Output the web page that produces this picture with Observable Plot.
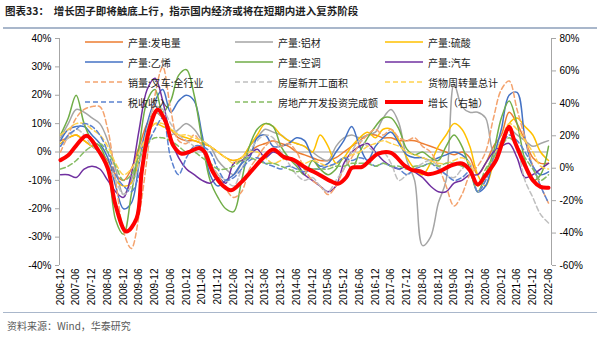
<!DOCTYPE html>
<html><head><meta charset="utf-8">
<script src="https://cdn.jsdelivr.net/npm/d3@7"></script>
<script src="https://cdn.jsdelivr.net/npm/@observablehq/plot@0.6"></script>
<style>
body{margin:0;background:#fff;}
#wrap{position:relative;width:600px;height:338px;overflow:hidden;background:#fff;}
#title{position:absolute;left:5px;top:3px;font-family:"Noto Sans CJK SC";font-weight:bold;font-size:10.5px;color:#1f1f1f;white-space:pre;}
#tline{position:absolute;left:3px;top:27px;width:594px;height:2px;background:#A9B7CB;}
#chart{position:absolute;left:0;top:30px;}
#legend{position:absolute;left:0;top:30px;width:600px;height:100px;pointer-events:none;}
.li{position:absolute;display:flex;align-items:center;font-family:"Noto Sans CJK SC";font-size:10px;color:#222;white-space:nowrap;}
.li svg{margin-right:5px;}
#fline{position:absolute;left:3px;top:312px;width:594px;height:1px;background:#A9B7CB;}
#source{position:absolute;left:7px;top:318px;font-family:"Noto Sans CJK SC";font-size:10px;color:#595959;}
</style></head>
<body>
<div id="wrap">
  <div id="title">图表33：  增长因子即将触底上行，指示国内经济或将在短期内进入复苏阶段</div>
  <div id="tline"></div>
  <div id="chart"></div>
  <div id="legend"></div>
  <div id="fline"></div>
  <div id="source">资料来源：Wind，华泰研究</div>
</div>
<script>
// ---- quarterly dates for the thin series ----
const quarters = ["2006-12",
 "2007-03","2007-06","2007-09","2007-12","2008-03","2008-06","2008-09","2008-12",
 "2009-03","2009-06","2009-09","2009-12","2010-03","2010-06","2010-09","2010-12",
 "2011-03","2011-06","2011-09","2011-12","2012-03","2012-06","2012-09","2012-12",
 "2013-03","2013-06","2013-09","2013-12","2014-03","2014-06","2014-09","2014-12",
 "2015-03","2015-06","2015-09","2015-12","2016-03","2016-06","2016-09","2016-12",
 "2017-03","2017-06","2017-09","2017-12","2018-03","2018-06","2018-09","2018-12",
 "2019-03","2019-06","2019-09","2019-12","2020-03","2020-06","2020-09","2020-12",
 "2021-03","2021-06","2021-09","2021-12","2022-03","2022-06"];

// 产量:发电量
const electricity = [4, 5,6,4,2, 0,-3,-8,-10, -6,2,10,14, 12,8,5,4, 4,3,2,0, -2,-3,-2,0, 2,3,4,3, 2,0,-1,-2, -3,-3,-2,0, 2,4,6,6, 5,5,4,4, 4,3,2,1, 0,-1,0,-2, -8,-4,2,6, 14,10,4,-2, -4,-4];
// 产量:铝材
const aluminum = [5, 10,15,14,12, 10,4,-6,-15, -10,0,8,14, 12,6,8,10, 8,4,2,-3, -6,-8,-4,2, 5,8,7,6, 4,3,2,0, -2,-3,2,5, 6,5,6,7, 12,15,10,-3, -10,-33,-30,-18, -10,24,16,14, 14,12,0,4, 8,6,4,2, 3,4];
// 产量:硫酸
const sulfuric = [3, 5,6,4,2, 0,-4,-10,-12, -11,-3,6,10, 9,8,6,5, 4,3,2,0, -2,-3,-2,2, 6,10,9,6, 4,3,2,0, 6,2,-4,-2, 2,5,7,5, 8,8,4,-2, -6,-8,-4,2, 6,10,8,2, -8,-12,-4,2, 10,12,9,6, 0,-3];
// 产量:乙烯
const ethylene = [4, 8,9,9,6, 3,-2,-12,-20, -18,-4,10,18, 22,14,18,20, 18,6,-8,-12, -10,-8,-4,-2, 5,6,2,2, 3,5,4,-2, -5,-4,0,4, 9,2,-3,2, 5,7,3,-1, -2,-2,-3,-2, -1,0,-1,-4, -14,-12,-2,8, 20,21,5,-5, -8,-7];
// 产量:空调
const aircon = [6, 12,20,10,4, 2,-5,-24,-29, -15,2,18,22, 14,18,27,29, 20,4,-10,-16, -20,-21,-10,2, 8,10,9,2, -2,-5,-8,-3, -6,-8,-6,-2, -6,0,5,9, 12,12,8,1, -1,0,-2,-3, 2,6,2,-6, -14,-8,0,12, 18,10,-3,-10, -8,2];
// 产量:汽车
const autos = [-8, -8,-9,-6,-5, -6,-10,-14,-16, -8,8,22,26, 18,5,-2,-6, -8,-10,-11,-9, -11,-4,-3,-1, 1,-2,0,-1, -2,-4,-8,-10, -12,-14,-12,-4, 0,2,3,0, -3,-5,-6,-5, -7,-9,-12,-14, -14,-11,-10,-8, -8,-4,0,2, 3,-2,-9,-8, -6,-4];
// 销量:叉车:全行业
const forklift = [0, 6,12,15,16, 16,8,-10,-28, -34,-22,-2,20, 30,15,4,3, 6,2,-4,-8, -13,-16,-14,-6, -2,2,4,2, 3,0,-6,-10, -12,-15,-12,-6, -2,3,6,8, 6,8,5,4, 5,2,0,-5, -12,-19,-15,-8, -5,0,12,22, 25,15,5,-5, -12,-18];
// 房屋新开工面积
const housing = [2, 5,8,6,2, 0,-4,-10,-15, -12,-4,8,16, 15,10,6,4, 2,0,-4,-8, -10,-12,-6,0, 4,6,5,0, -4,-8,-10,-9, -12,-14,-10,-6, 0,4,2,0, 0,-4,-10,-8, -6,-4,-3,-5, -8,-9,-6,-4, -14,-10,-2,4, 8,2,-10,-16, -22,-25];
// 货物周转量总计
const freight = [6, 8,10,10,8, 6,2,-4,-8, -6,0,6,10, 10,8,6,6, 5,4,2,0, -2,-4,-2,0, 0,-2,-4,-3, -2,-3,-4,-3, -4,-5,-4,-2, -1,0,2,3, 4,3,2,0, -1,-2,-3,-4, -4,-3,-2,-4, -12,-8,-2,4, 10,8,4,0, -5,-6];
// 税收收入
const tax = [2, 6,8,10,9, 6,0,-8,-12, -14,-8,2,8, 12,-2,-8,-2, 2,2,0,-6, -10,-9,-6,-3, -2,-4,-5,-6, -5,-6,-7,-6, -6,-5,-4,-2, -3,-2,-3,-5, -4,-5,-6,-8, -6,-5,-4,-6, -8,-10,-9,-7, -14,-10,-2,2, 6,4,0,-5, -12,-18];
// 房地产开发投资完成额
const realEstate = [-6, -5,-3,0,2, 3,0,-5,-10, -8,-2,3,5, 5,4,2,0, 0,-2,-4,-6, -6,-5,-3,-2, -3,-4,-4,-5, -6,-7,-6,-6, -6,-6,-5,-5, -4,-4,-4,-5, -4,-5,-5,-6, -5,-5,-4,-5, -4,-4,-5,-6, -12,-6,-2,2, 5,2,-2,-6, -10,-8];

// 增长（右轴）
const growthDates = ["2006-12","2007-03","2007-06","2007-10","2008-02","2008-06","2008-09","2009-01","2009-05","2009-07","2009-10","2010-01","2010-04","2010-07","2010-10","2011-01","2011-05","2011-07","2011-10","2012-02","2012-05","2012-09","2013-01","2013-05","2013-09","2014-01","2014-05","2014-09","2015-03","2015-07","2015-10","2016-01","2016-03","2016-07","2016-10","2017-01","2017-06","2017-11","2018-02","2018-05","2018-08","2018-12","2019-05","2019-09","2019-12","2020-03","2020-06","2020-10","2021-01","2021-03","2021-05","2021-09","2021-12","2022-03","2022-06"];
const growth = [5,8,14,20,12,0,-23,-39,-31,-2,25,36,29,14,9,10,12.5,10,-2,-11,-13.6,-8.4,-1.2,6,11.5,7,5,0.8,-4.3,-8,-9.5,-5.4,0.2,0.8,5,9,9.5,1.8,-1.2,-1.9,-3.7,-2.3,1.8,2.9,-1.2,-10,-4.3,5,19,25.5,17,1.8,-7.4,-11.5,-12];

const leftTicks = [-40,-30,-20,-10,0,10,20,30,40];
const rightTicks = [-60,-40,-20,0,20,40,60,80];
const xTickLabels = ["2006-12","2007-06","2007-12","2008-06","2008-12","2009-06","2009-12","2010-06","2010-12","2011-06","2011-12","2012-06","2012-12","2013-06","2013-12","2014-06","2014-12","2015-06","2015-12","2016-06","2016-12","2017-06","2017-12","2018-06","2018-12","2019-06","2019-12","2020-06","2020-12","2021-06","2021-12","2022-06"];

const series = [
  {name:"产量:发电量", values: electricity, color:"#ED7D31", dash:null},
  {name:"产量:铝材", values: aluminum, color:"#A5A5A5", dash:null},
  {name:"产量:硫酸", values: sulfuric, color:"#FFC000", dash:null},
  {name:"产量:乙烯", values: ethylene, color:"#4472C4", dash:null},
  {name:"产量:空调", values: aircon, color:"#70AD47", dash:null},
  {name:"产量:汽车", values: autos, color:"#7030A0", dash:null},
  {name:"销量:叉车:全行业", values: forklift, color:"#F4A36E", dash:"5,3"},
  {name:"房屋新开工面积", values: housing, color:"#BFBFBF", dash:"5,3"},
  {name:"货物周转量总计", values: freight, color:"#FFD24D", dash:"5,3"},
  {name:"税收收入", values: tax, color:"#5B82D0", dash:"5,3"},
  {name:"房地产开发投资完成额", values: realEstate, color:"#86BC63", dash:"5,3"}
];

const parse = d3.utcParse("%Y-%m");
const toLeft = v => -40 + (v + 60) * 80 / 140;
const toRight = v => (v + 40) * 140 / 80 - 60;
const xStart = parse(xTickLabels[0]), xEnd = parse(xTickLabels[xTickLabels.length - 1]);

const marks = [
  Plot.ruleY([0], {stroke:"#BFBFBF", strokeWidth:1.6}),
  Plot.ruleX([xStart], {stroke:"#A6A6A6", dx:-1}),
  Plot.ruleX([xEnd], {stroke:"#A6A6A6", dx:3})
];
for (const s of series) {
  const data = quarters.map((d, i) => ({date: parse(d), v: s.values[i]}));
  marks.push(Plot.line(data, {x:"date", y:"v", stroke:s.color, strokeWidth:1.5, strokeDasharray:s.dash, curve:"catmull-rom"}));
}
const growthData = growthDates.map((d, i) => ({date: parse(d), v: toLeft(growth[i])}));
marks.push(Plot.line(growthData, {x:"date", y:"v", stroke:"#FF0000", strokeWidth:4, curve:"catmull-rom"}));
marks.push(Plot.axisY(leftTicks, {anchor:"left", label:null, tickSize:4, tickPadding:4, dx:-1, stroke:"#A6A6A6", fill:"#000", tickFormat: d => d + "%"}));
marks.push(Plot.axisY(rightTicks.map(toLeft), {anchor:"right", label:null, tickSize:4, tickPadding:4, dx:3, stroke:"#A6A6A6", fill:"#000", tickFormat: d => Math.round(toRight(d)) + "%"}));
marks.push(Plot.axisX(xTickLabels.map(parse), {anchor:"bottom", label:null, tickRotate:-90, tickSize:0, tickPadding:3, fill:"#000", tickFormat: d3.utcFormat("%Y-%m")}));

const chart = Plot.plot({
  width: 600, height: 280,
  marginLeft: 60, marginRight: 52, marginTop: 8, marginBottom: 45,
  x: {type:"utc", domain:[xStart, xEnd], label:null},
  y: {domain:[-40, 40], label:null},
  style: {fontFamily:"'Liberation Sans', Arial, sans-serif", fontSize:"10px", color:"#000", background:"transparent"},
  marks
});
document.getElementById("chart").appendChild(chart);

// legend (3 columns x 4 rows)
const legendItems = series.map(s => ({name:s.name, color:s.color, dash:s.dash, w:1.5}))
  .concat([{name:"增长（右轴）", color:"#FF0000", dash:null, w:4}]);
const colX = [85, 235, 385], rowY = [12, 32, 52, 72];
const lg = document.getElementById("legend");
legendItems.forEach((it, i) => {
  const div = document.createElement("div");
  div.className = "li";
  div.style.left = colX[i % 3] + "px";
  div.style.top = (rowY[Math.floor(i / 3)] - 7) + "px";
  div.style.height = "14px";
  div.innerHTML = `<svg width="38" height="8"><line x1="0" y1="4" x2="38" y2="4" stroke="${it.color}" stroke-width="${it.w}" ${it.dash ? `stroke-dasharray="${it.dash}"` : ""}/></svg><span>${it.name}</span>`;
  lg.appendChild(div);
});
</script>
</body></html>
